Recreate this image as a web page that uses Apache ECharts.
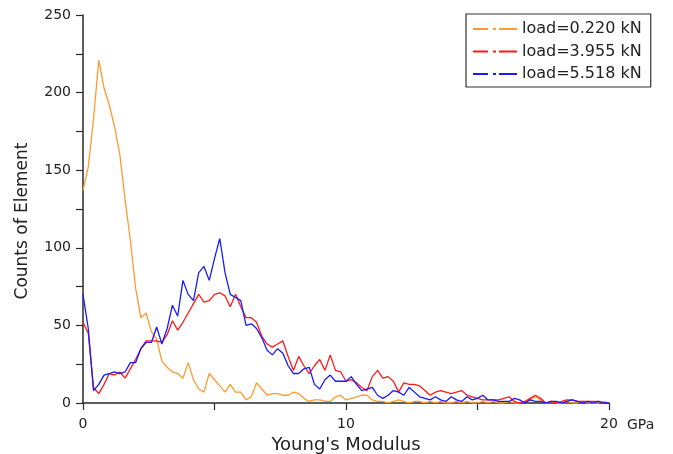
<!DOCTYPE html>
<html>
<head>
<meta charset="utf-8">
<script src="https://cdn.jsdelivr.net/npm/echarts@6/dist/echarts.min.js"></script>
<style>
  html, body { margin: 0; padding: 0; background: #fff; }
  #chart { width: 673px; height: 454px; }
</style>
</head>
<body>
<div id="chart"></div>
<script>
// Histogram of element Young's modulus, bins of 0.2 GPa from 0 to 20 GPa
const BIN_WIDTH = 0.2;

const seriesNames = ['load=0.220 kN', 'load=3.955 kN', 'load=5.518 kN'];
const seriesColors = ['#ff9a2e', '#ff1a1a', '#1a1aff'];

const load0220 = [
  137, 152, 183, 221, 203, 192, 178, 160, 131, 105, 74,
  55, 58, 46, 41, 27, 23, 20, 19, 16, 26,
  15, 9, 7, 19, 15, 11, 7, 12, 7, 7,
  2, 4, 13, 9, 5, 6, 6, 5, 5, 7,
  6, 3, 1, 2, 2, 1, 1, 4, 5, 2,
  3, 4, 5, 5, 2, 1, 1, 0, 1, 2,
  1, 0, 1, 1, 0, 1, 0, 1, 0, 0,
  1, 0, 1, 0, 0, 1, 0, 1, 0, 0,
  1, 0, 0, 1, 2, 4, 2, 0, 1, 0,
  0, 1, 0, 0, 1, 0, 0, 0, 1, 0
];

const load3955 = [
  52, 45, 10, 6, 12, 19, 18, 20, 16, 22, 28,
  35, 40, 40, 40, 39, 44, 53, 47, 52, 58,
  64, 70, 65, 66, 70, 71, 69, 62, 70, 62,
  55, 55, 52, 43, 38, 36, 38, 40, 30, 21,
  30, 24, 19, 24, 28, 21, 31, 21, 20, 14,
  15, 13, 10, 8, 17, 21, 16, 17, 14, 7,
  13, 12, 12, 11, 8, 5, 7, 8, 7, 6,
  7, 8, 5, 4, 3, 2, 2, 2, 2, 3,
  4, 1, 0, 1, 3, 5, 3, 0, 1, 0,
  1, 2, 2, 1, 1, 1, 1, 1, 0, 0
];

const load5518 = [
  70, 48, 8, 12, 18, 19, 20, 19, 20, 26, 26,
  35, 39, 39, 49, 38, 48, 63, 56, 79, 70,
  66, 84, 88, 79, 93, 106, 84, 70, 68, 66,
  50, 51, 48, 42, 34, 31, 35, 32, 24, 19,
  19, 22, 23, 12, 9, 15, 18, 14, 14, 14,
  17, 12, 8, 9, 10, 5, 3, 5, 8, 7,
  5, 10, 7, 4, 3, 2, 4, 2, 1, 4,
  2, 1, 4, 2, 3, 5, 2, 2, 1, 1,
  1, 3, 2, 0, 2, 1, 1, 0, 1, 1,
  0, 1, 2, 1, 0, 1, 0, 1, 0, 0
];

const xTickLabels = ['0', '10', '20'];
const yTickLabels = ['0', '50', '100', '150', '200', '250'];

const toPoints = (values) => values.map((v, i) => [+(i * BIN_WIDTH).toFixed(1), v]);

const FONT = 'DejaVu Sans';
const INK = '#222';
const AXIS = '#2a2a2a';

// dash-dot key used in the legend
const DASH_DOT = 'path://M0,0H15V2H0Z M20,0H23V2H20Z M26,0H44V2H26Z';

const chart = echarts.init(document.getElementById('chart'), null, { renderer: 'canvas' });

chart.setOption({
  animation: false,
  backgroundColor: '#fff',
  grid: {
    left: 83, right: 64, top: 15, bottom: 51,
    containLabel: false,
    outerBoundsMode: 'none'
  },
  legend: {
    orient: 'vertical',
    left: 466,
    top: 14,
    padding: [7, 9, 5, 7],
    borderColor: '#333',
    borderWidth: 1.2,
    itemWidth: 44,
    itemHeight: 2,
    itemGap: 6.5,
    textStyle: { fontFamily: FONT, fontSize: 16, color: INK, lineHeight: 16 },
    data: seriesNames.map((n) => ({ name: n, icon: DASH_DOT }))
  },
  xAxis: [
    {
      type: 'value',
      min: 0,
      max: 20,
      interval: 5,
      name: "Young's Modulus",
      nameLocation: 'middle',
      nameGap: 32,
      nameTextStyle: { fontFamily: FONT, fontSize: 18, color: INK },
      axisLine: { lineStyle: { color: AXIS, width: 1.5 } },
      axisTick: { length: 7, lineStyle: { color: AXIS, width: 1.2 } },
      axisLabel: {
        margin: 14,
        fontFamily: FONT,
        fontSize: 14,
        color: INK,
        formatter: (v) => (xTickLabels.includes(String(v)) ? String(v) : '')
      },
      splitLine: { show: false }
    },
    {
      type: 'value',
      min: 0,
      max: 20,
      position: 'bottom',
      name: 'GPa',
      nameLocation: 'end',
      nameGap: 18,
      nameTextStyle: {
        fontFamily: FONT, fontSize: 14, color: INK,
        verticalAlign: 'top', padding: [15, 0, 0, 0]
      },
      axisLine: { show: false },
      axisTick: { show: false },
      axisLabel: { show: false },
      splitLine: { show: false }
    }
  ],
  yAxis: {
    type: 'value',
    min: 0,
    max: 250,
    interval: 25,
    name: 'Counts of Element',
    nameLocation: 'middle',
    nameGap: 52,
    nameTextStyle: { fontFamily: FONT, fontSize: 17, color: INK, padding: [0, 24, 0, 0] },
    axisLine: { show: true, lineStyle: { color: AXIS, width: 1.5 } },
    axisTick: { length: 7, lineStyle: { color: AXIS, width: 1.2 } },
    axisLabel: {
      margin: 12,
      fontFamily: FONT,
      fontSize: 14,
      color: INK,
      formatter: (v) => (yTickLabels.includes(String(v)) ? String(v) : '')
    },
    splitLine: { show: false }
  },
  series: [load0220, load3955, load5518].map((values, k) => ({
    name: seriesNames[k],
    type: 'line',
    xAxisIndex: 0,
    data: toPoints(values),
    showSymbol: false,
    symbol: 'none',
    color: seriesColors[k],
    lineStyle: { color: seriesColors[k], width: 1.3 }
  }))
});
</script>
</body>
</html>
